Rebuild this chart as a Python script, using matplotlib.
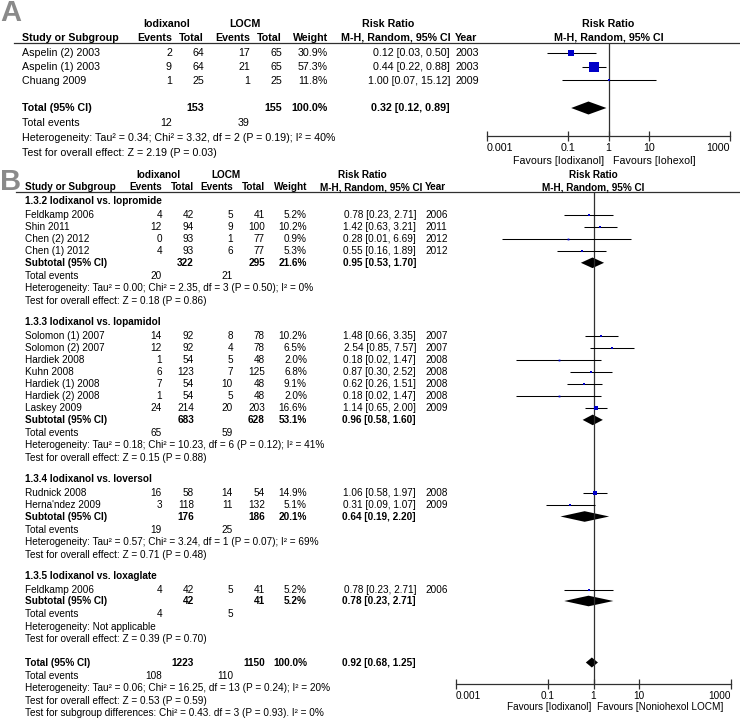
import matplotlib
matplotlib.use("Agg")
import numpy as np
import matplotlib.pyplot as plt

plt.rcParams['font.family'] = ['Liberation Sans', 'DejaVu Sans']

# ---------------- panel A data ----------------
a_names = ["Aspelin (2) 2003", "Aspelin (1) 2003", "Chuang 2009"]
a_ev1 = [2, 9, 1]
a_tot1 = [64, 64, 25]
a_ev2 = [17, 21, 1]
a_tot2 = [65, 65, 25]
a_weight = [30.9, 57.3, 11.8]
a_rr = [0.12, 0.44, 1.00]
a_lo = [0.03, 0.22, 0.07]
a_hi = [0.50, 0.88, 15.12]
a_year = [2003, 2003, 2009]
a_total_n = [153, 155]
a_total_events = [12, 39]
a_total_ci = [0.32, 0.12, 0.89]
a_het = "Heterogeneity: Tau\u00b2 = 0.34; Chi\u00b2 = 3.32, df = 2 (P = 0.19); I\u00b2 = 40%"
a_z = "Test for overall effect: Z = 2.19 (P = 0.03)"

# ---------------- panel B data ----------------
b_groups = ["1.3.2 Iodixanol vs. Iopromide", "1.3.3 Iodixanol vs. Iopamidol",
            "1.3.4 Iodixanol vs. Ioversol", "1.3.5 Iodixanol vs. Ioxaglate"]
b_names = [["Feldkamp 2006", "Shin 2011", "Chen (2) 2012", "Chen (1) 2012"],
           ["Solomon (1) 2007", "Solomon (2) 2007", "Hardiek 2008", "Kuhn 2008",
            "Hardiek (1) 2008", "Hardiek (2) 2008", "Laskey 2009"],
           ["Rudnick 2008", "Herna'ndez 2009"],
           ["Feldkamp 2006"]]
b_ev1 = [[4, 12, 0, 4], [14, 12, 1, 6, 7, 1, 24], [16, 3], [4]]
b_tot1 = [[42, 94, 93, 93], [92, 92, 54, 123, 54, 54, 214], [58, 118], [42]]
b_ev2 = [[5, 9, 1, 6], [8, 4, 5, 7, 10, 5, 20], [14, 11], [5]]
b_tot2 = [[41, 100, 77, 77], [78, 78, 48, 125, 48, 48, 203], [54, 132], [41]]
b_weight = [[5.2, 10.2, 0.9, 5.3], [10.2, 6.5, 2.0, 6.8, 9.1, 2.0, 16.6], [14.9, 5.1], [5.2]]
b_rr = [[0.78, 1.42, 0.28, 0.55], [1.48, 2.54, 0.18, 0.87, 0.62, 0.18, 1.14], [1.06, 0.31], [0.78]]
b_lo = [[0.23, 0.63, 0.01, 0.16], [0.66, 0.85, 0.02, 0.30, 0.26, 0.02, 0.65], [0.58, 0.09], [0.23]]
b_hi = [[2.71, 3.21, 6.69, 1.89], [3.35, 7.57, 1.47, 2.52, 1.51, 1.47, 2.00], [1.97, 1.07], [2.71]]
b_year = [[2006, 2011, 2012, 2012], [2007, 2007, 2008, 2008, 2008, 2008, 2009], [2008, 2009], [2006]]

b_sub_n1 = [322, 683, 176, 42]
b_sub_n2 = [295, 628, 186, 41]
b_sub_w = [21.6, 53.1, 20.1, 5.2]
b_sub_ev1 = [20, 65, 19, 4]
b_sub_ev2 = [21, 59, 25, 5]
b_sub_rr = [0.95, 0.96, 0.64, 0.78]
b_sub_lo = [0.53, 0.58, 0.19, 0.23]
b_sub_hi = [1.70, 1.60, 2.20, 2.71]
b_sub_het = ["Heterogeneity: Tau\u00b2 = 0.00; Chi\u00b2 = 2.35, df = 3 (P = 0.50); I\u00b2 = 0%",
             "Heterogeneity: Tau\u00b2 = 0.18; Chi\u00b2 = 10.23, df = 6 (P = 0.12); I\u00b2 = 41%",
             "Heterogeneity: Tau\u00b2 = 0.57; Chi\u00b2 = 3.24, df = 1 (P = 0.07); I\u00b2 = 69%",
             "Heterogeneity: Not applicable"]
b_sub_z = ["Test for overall effect: Z = 0.18 (P = 0.86)",
           "Test for overall effect: Z = 0.15 (P = 0.88)",
           "Test for overall effect: Z = 0.71 (P = 0.48)",
           "Test for overall effect: Z = 0.39 (P = 0.70)"]

b_total_n = [1223, 1150]
b_total_events = [108, 110]
b_total_ci = [0.92, 0.68, 1.25]
b_het = "Heterogeneity: Tau\u00b2 = 0.06; Chi\u00b2 = 16.25, df = 13 (P = 0.24); I\u00b2 = 20%"
b_z = "Test for overall effect: Z = 0.53 (P = 0.59)"
b_sub_test = "Test for subgroup differences: Chi\u00b2 = 0.43. df = 3 (P = 0.93). I\u00b2 = 0%"

ticks = [0.001, 0.1, 1, 10, 1000]
tick_labels = ["0.001", "0.1", "1", "10", "1000"]

# ---------------- layout ----------------
W, H = 740, 719
FS_A = 7.7
FS_B = 7.2
BLUE = "#0000c8"
LINE = "#303030"

fig = plt.figure(figsize=(W / 100, H / 100), dpi=100)
bg = fig.add_axes([0, 0, 1, 1])
bg.set_xlim(0, W)
bg.set_ylim(H, 0)
bg.axis("off")

fs = FS_A


def txt(x, y, s, ha="left", bold=False):
    bg.text(x, y, s, ha=ha, va="center", fontsize=fs,
            fontweight="bold" if bold else "normal", color="black")


def ci_str(rr, lo, hi):
    return "%.2f [%.2f, %.2f]" % (rr, lo, hi)


def sq_px(w):
    return max(1.8, 2 + 0.14 * (w - 5))


def forest_axes(x0, x1, ytop, ybot, size):
    ax = fig.add_axes([x0 / W, 1 - ybot / H, (x1 - x0) / W, (ybot - ytop) / H])
    ax.set_xscale("log")
    ax.set_xlim(0.001, 1000)
    ax.set_ylim(ybot, ytop)
    ax.patch.set_alpha(0)
    for s in ["top", "left", "right"]:
        ax.spines[s].set_visible(False)
    ax.spines["bottom"].set_color(LINE)
    ax.spines["bottom"].set_linewidth(0.9)
    ax.set_xticks(ticks)
    ax.set_xticklabels(tick_labels)
    ax.minorticks_off()
    ax.set_yticks([])
    ax.tick_params(axis="x", direction="inout", length=7, width=0.9, color=LINE,
                   labelsize=size, pad=1.5)
    labels = ax.get_xticklabels()
    labels[0].set_horizontalalignment("left")
    labels[-1].set_horizontalalignment("right")
    ax.axvline(1, color=LINE, lw=0.9)
    return ax


def study_mark(ax, y, rr, lo, hi, w):
    ax.plot([lo, hi], [y, y], color="black", lw=0.75, solid_capstyle="butt")
    ax.plot(rr, y, marker="s", ms=sq_px(w) * 0.72, color=BLUE, mec=BLUE, mew=0)


def diamond(ax, y, rr, lo, hi, h):
    ax.fill([lo, rr, hi, rr], [y, y - h, y, y + h], color="black", lw=0)


# ---------------- panel A ----------------
bg.text(0, 13, "A", fontsize=21, fontweight="bold", color="#8a8a8a", va="center", ha="left")

a_cols = dict(name=22.5, ev1=172, tot1=204, ev2=250, tot2=282, w=328, rr=450, year=455)
txt(167, 24, "Iodixanol", "center", True)
txt(245, 24, "LOCM", "center", True)
txt(388, 24, "Risk Ratio", "center", True)
txt(608.5, 24, "Risk Ratio", "center", True)
txt(a_cols["name"], 38, "Study or Subgroup", bold=True)
txt(a_cols["ev1"], 38, "Events", "right", True)
txt(a_cols["tot1"], 38, "Total", "right", True)
txt(a_cols["ev2"], 38, "Events", "right", True)
txt(a_cols["tot2"], 38, "Total", "right", True)
txt(a_cols["w"], 38, "Weight", "right", True)
txt(341, 38, "M-H, Random, 95% CI", bold=True)
txt(a_cols["year"], 38, "Year", bold=True)
txt(608.5, 38, "M-H, Random, 95% CI", "center", True)
bg.plot([14, W], [42.5, 42.5], color=LINE, lw=0.9)

axA = forest_axes(487, 730, 42.5, 136, FS_A)
a_y = 53.5 + 13.5 * np.arange(len(a_names))
for i, y in enumerate(a_y):
    txt(a_cols["name"], y, a_names[i])
    txt(a_cols["ev1"], y, str(a_ev1[i]), "right")
    txt(a_cols["tot1"], y, str(a_tot1[i]), "right")
    txt(a_cols["ev2"], y, str(a_ev2[i]), "right")
    txt(a_cols["tot2"], y, str(a_tot2[i]), "right")
    txt(a_cols["w"], y, "%.1f%%" % a_weight[i], "right")
    txt(a_cols["rr"], y, ci_str(a_rr[i], a_lo[i], a_hi[i]), "right")
    txt(a_cols["year"], y, str(a_year[i]))
    study_mark(axA, y, a_rr[i], a_lo[i], a_hi[i], a_weight[i])

yt = 108
txt(a_cols["name"], yt, "Total (95% CI)", bold=True)
txt(a_cols["tot1"], yt, str(a_total_n[0]), "right", True)
txt(a_cols["tot2"], yt, str(a_total_n[1]), "right", True)
txt(a_cols["w"], yt, "100.0%", "right", True)
txt(a_cols["rr"], yt, ci_str(*a_total_ci), "right", True)
diamond(axA, yt, a_total_ci[0], a_total_ci[1], a_total_ci[2], 6.5)
txt(a_cols["name"], 123.5, "Total events")
txt(a_cols["ev1"], 123.5, str(a_total_events[0]), "right")
txt(a_cols["ev2"], 123.5, str(a_total_events[1]), "right")
txt(a_cols["name"], 138, a_het)
txt(a_cols["name"], 152.5, a_z)
axA.annotate("Favours [Iodixanol]", (1, 160.5), xytext=(-3.5, 0), textcoords="offset points",
             ha="right", va="center", fontsize=FS_A, annotation_clip=False)
axA.annotate("Favours [Iohexol]", (1, 160.5), xytext=(3.5, 0), textcoords="offset points",
             ha="left", va="center", fontsize=FS_A, annotation_clip=False)

# ---------------- panel B ----------------
fs = FS_B
bg.text(0, 182, "B", fontsize=21, fontweight="bold", color="#8a8a8a", va="center", ha="left")

b_cols = dict(name=25, ev1=162, tot1=194, ev2=233, tot2=265, w=307, rr=416, year=425)
txt(158, 175, "Iodixanol", "center", True)
txt(226, 175, "LOCM", "center", True)
txt(362, 175, "Risk Ratio", "center", True)
txt(593.5, 175, "Risk Ratio", "center", True)
txt(b_cols["name"], 187, "Study or Subgroup", bold=True)
txt(b_cols["ev1"], 187, "Events", "right", True)
txt(b_cols["tot1"], 187, "Total", "right", True)
txt(b_cols["ev2"], 187, "Events", "right", True)
txt(b_cols["tot2"], 187, "Total", "right", True)
txt(b_cols["w"], 187, "Weight", "right", True)
txt(320, 187, "M-H, Random, 95% CI", bold=True)
txt(b_cols["year"], 187, "Year", bold=True)
txt(593.5, 187, "M-H, Random, 95% CI", "center", True)
bg.plot([16, W], [192, 192], color=LINE, lw=0.9)

axB = forest_axes(456, 731, 192, 684, FS_B)

y = 201.0
for g in range(len(b_groups)):
    txt(b_cols["name"], y, b_groups[g], bold=True)
    y += 14
    for i in range(len(b_names[g])):
        txt(b_cols["name"], y, b_names[g][i])
        txt(b_cols["ev1"], y, str(b_ev1[g][i]), "right")
        txt(b_cols["tot1"], y, str(b_tot1[g][i]), "right")
        txt(b_cols["ev2"], y, str(b_ev2[g][i]), "right")
        txt(b_cols["tot2"], y, str(b_tot2[g][i]), "right")
        txt(b_cols["w"], y, "%.1f%%" % b_weight[g][i], "right")
        txt(b_cols["rr"], y, ci_str(b_rr[g][i], b_lo[g][i], b_hi[g][i]), "right")
        txt(b_cols["year"], y, str(b_year[g][i]))
        study_mark(axB, y, b_rr[g][i], b_lo[g][i], b_hi[g][i], b_weight[g][i])
        y += 12.1
    y -= 0.6
    txt(b_cols["name"], y, "Subtotal (95% CI)", bold=True)
    txt(b_cols["tot1"], y, str(b_sub_n1[g]), "right", True)
    txt(b_cols["tot2"], y, str(b_sub_n2[g]), "right", True)
    txt(b_cols["w"], y, "%.1f%%" % b_sub_w[g], "right", True)
    txt(b_cols["rr"], y, ci_str(b_sub_rr[g], b_sub_lo[g], b_sub_hi[g]), "right", True)
    diamond(axB, y, b_sub_rr[g], b_sub_lo[g], b_sub_hi[g], 5.3)
    y += 13
    txt(b_cols["name"], y, "Total events")
    txt(b_cols["ev1"], y, str(b_sub_ev1[g]), "right")
    txt(b_cols["ev2"], y, str(b_sub_ev2[g]), "right")
    y += 12.5
    txt(b_cols["name"], y, b_sub_het[g])
    y += 12.5
    txt(b_cols["name"], y, b_sub_z[g])
    y += 21

y = 662.5
txt(b_cols["name"], y, "Total (95% CI)", bold=True)
txt(b_cols["tot1"], y, str(b_total_n[0]), "right", True)
txt(b_cols["tot2"], y, str(b_total_n[1]), "right", True)
txt(b_cols["w"], y, "100.0%", "right", True)
txt(b_cols["rr"], y, ci_str(*b_total_ci), "right", True)
diamond(axB, y, b_total_ci[0], b_total_ci[1], b_total_ci[2], 5)
txt(b_cols["name"], 676, "Total events")
txt(b_cols["ev1"], 676, str(b_total_events[0]), "right")
txt(b_cols["ev2"], 676, str(b_total_events[1]), "right")
txt(b_cols["name"], 688, b_het)
txt(b_cols["name"], 700.5, b_z)
txt(b_cols["name"], 712.5, b_sub_test)
axB.annotate("Favours [Iodixanol]", (1, 707), xytext=(-1.5, 0), textcoords="offset points",
             ha="right", va="center", fontsize=FS_B, annotation_clip=False)
axB.annotate("Favours [Noniohexol LOCM]", (1, 707), xytext=(2.5, 0), textcoords="offset points",
             ha="left", va="center", fontsize=FS_B, annotation_clip=False)

fig.savefig("out.png", dpi=100)
